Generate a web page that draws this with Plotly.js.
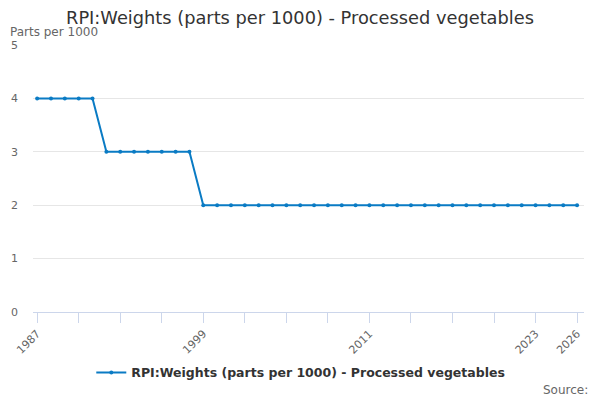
<!DOCTYPE html>
<html>
<head>
<meta charset="utf-8">
<script src="https://cdn.plot.ly/plotly-3.0.1.min.js"></script>
<style>
  html, body { margin: 0; padding: 0; background: #fff; }
  #chart { width: 600px; height: 400px; }
</style>
</head>
<body>
<div id="chart"></div>
<script>
// years and weights
var years = [];
for (var y = 1987; y <= 2026; y++) years.push(y);
var weights = [
  4, 4, 4, 4, 4,
  3, 3, 3, 3, 3, 3, 3,
  2, 2, 2, 2, 2, 2, 2, 2, 2, 2, 2, 2, 2, 2, 2, 2, 2, 2, 2, 2, 2, 2, 2, 2, 2, 2, 2, 2
];
var tickYears = [1987, 1990, 1993, 1996, 1999, 2002, 2005, 2008, 2011, 2014, 2017, 2020, 2023, 2026];
var labelYears = [1987, 1999, 2011, 2023, 2026];
var tickText = tickYears.map(function (t) {
  return labelYears.indexOf(t) >= 0 ? String(t) : '';
});
var seriesName = 'RPI:Weights (parts per 1000) - Processed vegetables';

var font = 'DejaVu Sans, sans-serif';

var data = [{
  x: years,
  y: weights,
  name: seriesName,
  type: 'scatter',
  mode: 'lines+markers',
  line: { color: '#0a7bc4', width: 2 },
  marker: { color: '#0a7bc4', size: 4 }
}];

var layout = {
  width: 600,
  height: 400,
  margin: { l: 33, r: 16, t: 45, b: 88 },
  paper_bgcolor: '#fff',
  plot_bgcolor: '#fff',
  font: { family: font, color: '#666' },
  title: {
    text: 'RPI:Weights (parts per 1000) - Processed vegetables',
    font: { family: font, size: 17.8, color: '#333' },
    x: 0.5, xanchor: 'center',
    y: 0.955, yanchor: 'middle'
  },
  xaxis: {
    range: [1986.7, 2026.5],
    tickvals: tickYears,
    ticktext: tickText,
    tickangle: -45,
    ticks: 'outside',
    ticklen: 10,
    tickcolor: '#ccd6eb',
    showline: true,
    linecolor: '#ccd6eb',
    linewidth: 1,
    showgrid: false,
    zeroline: false,
    tickfont: { family: font, size: 11, color: '#666' }
  },
  yaxis: {
    range: [0, 5],
    dtick: 1,
    showgrid: true,
    gridcolor: '#e6e6e6',
    zeroline: false,
    showline: false,
    ticks: '',
    ticklabelstandoff: 14,
    tickfont: { family: font, size: 11, color: '#666' }
  },
  showlegend: true,
  legend: {
    orientation: 'h',
    x: 0.486, xanchor: 'center',
    y: -0.228, yanchor: 'middle',
    itemwidth: 30,
    font: { family: font, size: 12.5, color: '#333', weight: 'bold' }
  },
  annotations: [
    {
      text: 'Parts per 1000',
      xref: 'paper', yref: 'paper',
      x: -0.045, xanchor: 'left',
      y: 1.049, yanchor: 'middle',
      showarrow: false,
      font: { family: font, size: 12, color: '#666' }
    },
    {
      text: 'Source:',
      xref: 'paper', yref: 'paper',
      x: 1.01, xanchor: 'right',
      y: -0.292, yanchor: 'middle',
      showarrow: false,
      font: { family: font, size: 12, color: '#666' }
    }
  ]
};

Plotly.newPlot('chart', data, layout, { displayModeBar: false, staticPlot: true });
</script>
</body>
</html>
